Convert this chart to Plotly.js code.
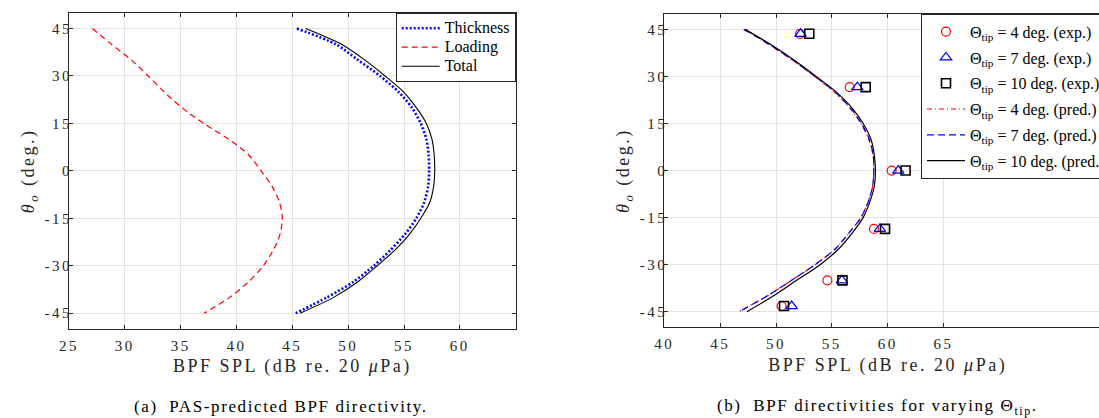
<!DOCTYPE html>
<html>
<head>
<meta charset="utf-8">
<script src="https://cdn.plot.ly/plotly-3.0.1.min.js"></script>
<style>
  html, body { margin: 0; padding: 0; background: #fff; overflow: hidden; }
  #fig { width: 1120px; height: 418px; }
  /* wide-set lettering for tick labels, axis titles and captions */
  #fig .xtick text, #fig .ytick text, #fig .x2tick text, #fig .y2tick text { letter-spacing: 2.5px; }
  #fig text.xtitle, #fig text.x2title, #fig text.ytitle, #fig text.y2title { letter-spacing: 2.5px; }
  #fig .annotation-text { letter-spacing: 1.6px; }
  /* legend entries: full-size text on compact rows */
  text.legendtext { font-size: 16px !important; }
</style>
</head>
<body>
<div id="fig"></div>
<script>
// Observer angle (deg.) at which the directivity curves are evaluated
const thetaObs = [45, 40, 35, 30, 25, 20, 15, 10, 5, 0, -5, -10, -15, -20, -25, -30, -35, -40, -45];

// (a) PAS-predicted BPF SPL components (dB re. 20 uPa)
const splThickness = [45.4, 48.9, 50.9, 52.85, 54.5, 55.7, 56.5, 57.0, 57.2, 57.25, 57.15, 56.8, 56.1, 55.1, 53.8, 52.3, 50.5, 48.1, 45.3];
const splLoading   = [27.1, 28.8, 30.6, 32.1, 33.5, 35.1, 37.05, 39.3, 41.1, 42.2, 43.2, 43.85, 44.1, 43.9, 43.3, 42.4, 41.1, 39.4, 37.1];
const splTotal     = [46.2, 49.4, 51.5, 53.3, 54.95, 56.1, 57.0, 57.5, 57.7, 57.75, 57.65, 57.3, 56.5, 55.5, 54.2, 52.6, 50.9, 48.7, 45.7];

// (b) predicted BPF SPL for three tip angles
const predTip4  = [47.1, 49.45, 51.55, 53.45, 55.25, 56.6, 57.6, 58.3, 58.68, 58.75, 58.65, 58.25, 57.6, 56.5, 55.3, 53.5, 51.4, 49.2, 46.7];
const predTip7  = [47.15, 49.5, 51.6, 53.5, 55.3, 56.65, 57.65, 58.35, 58.7, 58.75, 58.65, 58.25, 57.6, 56.5, 55.3, 53.5, 51.4, 49.2, 46.7];
const predTip10 = [47.25, 49.6, 51.7, 53.6, 55.4, 56.8, 57.8, 58.5, 58.8, 58.9, 58.8, 58.4, 57.8, 56.8, 55.6, 53.95, 51.85, 49.75, 47.4];

// (b) measured BPF SPL
const thetaExp = [43.6, 26.6, 0, -18.6, -35.0, -43.2];
const expTip4  = [52.15, 56.6, 60.35, 58.77, 54.6, 50.5];
const expTip7  = [52.2, 57.28, 60.95, 59.3, 55.9, 51.4];
const expTip10 = [52.98, 58.03, 61.6, 59.76, 55.95, 50.72];

// Axis ticks
const xTicksA = [25, 30, 35, 40, 45, 50, 55, 60];
const xTicksB = [40, 45, 50, 55, 60, 65];
const yTicks  = [-45, -30, -15, 0, 15, 30, 45];

const W = 1120, H = 418;
const serif = '"Liberation Serif", "DejaVu Serif", serif';
const axisCol = '#262626';
const gridCol = '#e3e3e3';
const smooth = { shape: 'spline', smoothing: 0.8 };

const traces = [
  // (a)
  { x: splThickness, y: thetaObs, xaxis: 'x', yaxis: 'y', mode: 'lines', name: 'Thickness',
    line: Object.assign({ color: '#0000ff', width: 2.6, dash: '2px,2px' }, smooth), legend: 'legend' },
  { x: splLoading, y: thetaObs, xaxis: 'x', yaxis: 'y', mode: 'lines', name: 'Loading',
    line: Object.assign({ color: '#ff0000', width: 1.2, dash: '6px,4px' }, smooth), legend: 'legend' },
  { x: splTotal, y: thetaObs, xaxis: 'x', yaxis: 'y', mode: 'lines', name: 'Total',
    line: Object.assign({ color: '#000000', width: 1.1 }, smooth), legend: 'legend' },
  // (b) measurements
  { x: expTip4, y: thetaExp, xaxis: 'x2', yaxis: 'y2', mode: 'markers', legendgroup: 'e4',
    name: '\u0398<sub>tip</sub> = 4 deg. (exp.)',
    marker: { symbol: 'circle-open', size: 9, color: '#ff0000', line: { width: 1.2 } }, legend: 'legend2' },
  { x: expTip7, y: thetaExp, xaxis: 'x2', yaxis: 'y2', mode: 'markers', legendgroup: 'e7',
    name: '\u0398<sub>tip</sub> = 7 deg. (exp.)',
    marker: { symbol: 'triangle-up-open', size: 10, color: '#0000ff', line: { width: 1.2 } }, legend: 'legend2' },
  { x: expTip10, y: thetaExp, xaxis: 'x2', yaxis: 'y2', mode: 'markers', legendgroup: 'e10',
    name: '\u0398<sub>tip</sub> = 10 deg. (exp.)',
    marker: { symbol: 'square-open', size: 9, color: '#000000', line: { width: 1.6 } }, legend: 'legend2' },
  // (b) predictions
  { x: predTip4, y: thetaObs, xaxis: 'x2', yaxis: 'y2', mode: 'lines', legendgroup: 'p4',
    name: '\u0398<sub>tip</sub> = 4 deg. (pred.)',
    line: Object.assign({ color: '#ff0000', width: 1.2, dash: '5px,3px,1px,3px' }, smooth), legend: 'legend2' },
  { x: predTip7, y: thetaObs, xaxis: 'x2', yaxis: 'y2', mode: 'lines', legendgroup: 'p7',
    name: '\u0398<sub>tip</sub> = 7 deg. (pred.)',
    line: Object.assign({ color: '#0000ff', width: 1.2, dash: '7px,4px' }, smooth), legend: 'legend2' },
  { x: predTip10, y: thetaObs, xaxis: 'x2', yaxis: 'y2', mode: 'lines', legendgroup: 'p10',
    name: '\u0398<sub>tip</sub> = 10 deg. (pred.)',
    line: Object.assign({ color: '#000000', width: 1.2 }, smooth), legend: 'legend2' }
];

function xAxis(range, ticks, domain, anchor) {
  return {
    domain: domain, range: range, anchor: anchor,
    tickmode: 'array', tickvals: ticks, ticktext: ticks.map(String),
    ticks: 'inside', ticklen: 4, tickcolor: axisCol, tickwidth: 1,
    showline: true, linecolor: axisCol, linewidth: 1, mirror: 'ticks',
    showgrid: true, gridcolor: gridCol, gridwidth: 1, zeroline: false,
    ticklabelstandoff: 3,
    tickfont: { family: serif, size: 15, color: axisCol },
    title: { text: 'BPF SPL (dB re. 20 <i>\u03bc</i>Pa)', font: { family: serif, size: 18, color: axisCol }, standoff: 6 }
  };
}
function yAxis(domain, anchor) {
  return {
    domain: domain, range: [-50, 50], anchor: anchor,
    tickmode: 'array', tickvals: yTicks, ticktext: yTicks.map(String),
    ticks: 'inside', ticklen: 4, tickcolor: axisCol, tickwidth: 1,
    showline: true, linecolor: axisCol, linewidth: 1, mirror: 'ticks',
    showgrid: true, gridcolor: gridCol, gridwidth: 1, zeroline: false,
    ticklabelstandoff: -7,
    tickfont: { family: serif, size: 15, color: axisCol },
    title: { text: '<i>\u03b8<sub>o</sub></i> (deg.)', font: { family: serif, size: 18, color: axisCol }, standoff: 12 }
  };
}

const layout = {
  width: W, height: H,
  margin: { l: 0, r: 0, t: 0, b: 0 },
  paper_bgcolor: '#ffffff', plot_bgcolor: '#ffffff',
  showlegend: true,
  font: { family: serif },
  xaxis:  xAxis([25, 65], xTicksA, [69 / W, 515.7 / W], 'y'),
  yaxis:  yAxis([1 - 329 / H, 1 - 12.7 / H], 'x'),
  xaxis2: xAxis([40, 80], xTicksB, [664.3 / W, 1111.1 / W], 'y2'),
  yaxis2: yAxis([1 - 327.4 / H, 1 - 13.7 / H], 'x2'),
  legend: {
    x: 395.7 / W, y: 1 - 12.7 / H, xanchor: 'left', yanchor: 'top',
    bgcolor: '#ffffff', bordercolor: axisCol, borderwidth: 1,
    font: { family: serif, size: 12, color: '#000000' },
    itemwidth: 38, tracegroupgap: 0
  },
  legend2: {
    x: 921 / W, y: 1 - 13.7 / H, xanchor: 'left', yanchor: 'top',
    bgcolor: '#ffffff', bordercolor: axisCol, borderwidth: 1,
    font: { family: serif, size: 16, color: '#000000' },
    itemwidth: 38, tracegroupgap: 2, traceorder: 'grouped'
  },
  annotations: [
    { text: '(a)  PAS-predicted BPF directivity.', xref: 'paper', yref: 'paper',
      x: 281 / W, y: 1 - 406.7 / H, xanchor: 'center', yanchor: 'middle', showarrow: false,
      font: { family: serif, size: 17, color: '#000000' } },
    { text: '(b)  BPF directivities for varying \u0398<sub>tip</sub>.', xref: 'paper', yref: 'paper',
      x: 877.5 / W, y: 1 - 406.7 / H, xanchor: 'center', yanchor: 'middle', showarrow: false,
      font: { family: serif, size: 17, color: '#000000' } }
  ]
};

Plotly.newPlot('fig', traces, layout, { staticPlot: true, displayModeBar: false });
</script>
</body>
</html>
